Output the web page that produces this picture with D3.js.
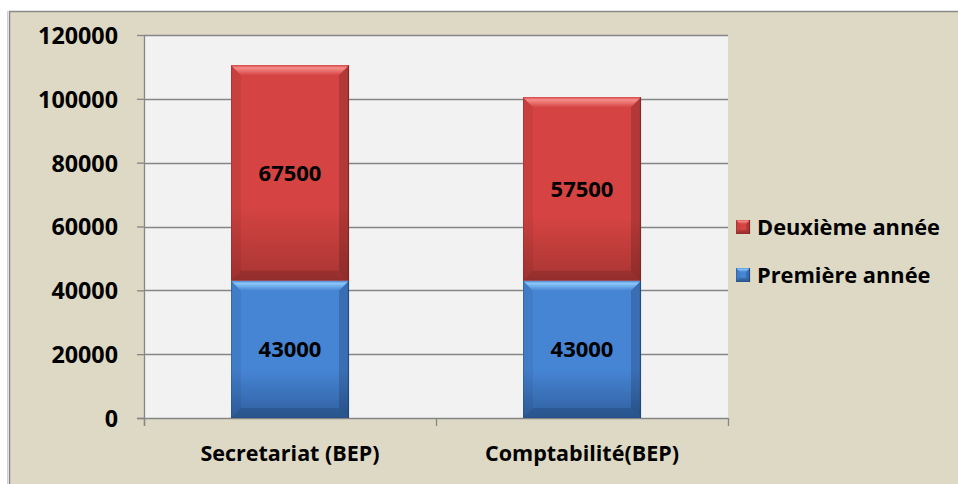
<!DOCTYPE html>
<html>
<head>
<meta charset="utf-8">
<script src="https://cdn.jsdelivr.net/npm/d3@7"></script>
<style>
  html, body { margin: 0; padding: 0; background: #ffffff; }
  svg { display: block; }
  text { font-family: "Open Sans", Lato, sans-serif; font-weight: bold; fill: #000; }
</style>
</head>
<body>
<svg id="chart" width="958" height="484"></svg>
<script>
const categories = ["Secretariat (BEP)", "Comptabilité(BEP)"];
const seriesNames = ["Première année", "Deuxième année"];
const premiere = [43000, 43000];
const deuxieme = [67500, 57500];
const yTicks = [0, 20000, 40000, 60000, 80000, 100000, 120000];

const W = 958, H = 484;
const FONT = "'Open Sans', Lato, sans-serif";
const svg = d3.select("#chart");
const defs = svg.append("defs");

// frame
svg.append("line").attr("x1", 7.5).attr("x2", 7.5).attr("y1", 11).attr("y2", H)
  .attr("stroke", "#cfcfcf").attr("stroke-width", 1);
svg.append("rect").attr("x", 9.5).attr("y", 11.5).attr("width", W).attr("height", H)
  .attr("fill", "#ddd9c4").attr("stroke", "#8a8a8a").attr("stroke-width", 1.5);

const plot = { left: 144, right: 728, top: 35, bottom: 418 };
svg.append("rect").attr("x", plot.left).attr("y", plot.top)
  .attr("width", plot.right - plot.left).attr("height", plot.bottom - plot.top)
  .attr("fill", "#f2f2f2");

const y = d3.scaleLinear().domain([0, 120000]).range([plot.bottom, plot.top]);
const x = d3.scaleBand().domain(categories).range([plot.left, plot.right])
  .paddingInner(0.596).paddingOuter(0.298);

// gridlines + y axis
const yAxis = d3.axisLeft(y).tickValues(yTicks).tickSize(7).tickFormat(d3.format("d"));
const gy = svg.append("g").attr("transform", `translate(${plot.left},0)`).call(yAxis);
gy.attr("font-family", null).attr("font-size", null);
gy.select(".domain").attr("stroke", "#868686").attr("stroke-width", 1.3)
  .attr("d", `M0.5,${plot.top}V${plot.bottom + 8}`);
gy.selectAll(".tick line").attr("stroke", "#868686").attr("stroke-width", 1.3);
gy.selectAll(".tick text").attr("x", -26).attr("dy", "0.36em")
  .style("font-size", "23.3px").style("font-family", FONT).style("font-weight", "bold").attr("fill", "#000");
svg.append("g").selectAll("line").data(yTicks.filter(d => d > 0)).join("line")
  .attr("x1", plot.left).attr("x2", plot.right)
  .attr("y1", d => Math.round(y(d)) + 0.5).attr("y2", d => Math.round(y(d)) + 0.5)
  .attr("stroke", "#868686").attr("stroke-width", 1.3);

// x axis
const xAxis = d3.axisBottom(x).tickSize(0).tickPadding(28);
const gx = svg.append("g").attr("transform", `translate(0,${plot.bottom})`).call(xAxis);
gx.attr("font-family", null).attr("font-size", null);
gx.select(".domain").remove();
gx.selectAll(".tick text")
  .style("font-size", "21.5px").style("font-family", FONT).style("font-weight", "bold").attr("fill", "#000");
svg.append("line").attr("x1", plot.left - 7).attr("x2", plot.right)
  .attr("y1", plot.bottom + 0.5).attr("y2", plot.bottom + 0.5)
  .attr("stroke", "#868686").attr("stroke-width", 1.3);
const boundaries = [plot.left, (plot.left + plot.right) / 2, plot.right];
svg.append("g").selectAll("line").data(boundaries).join("line")
  .attr("x1", d => d + 0.5).attr("x2", d => d + 0.5)
  .attr("y1", plot.bottom).attr("y2", plot.bottom + 8)
  .attr("stroke", "#868686").attr("stroke-width", 1.3);

// gradients
const palettes = {
  red:  { base: "#d54442", hi: "#f58e8a", lo: "#a83533", edge: "#7a2422" },
  blue: { base: "#4684d4", hi: "#8cc8f8", lo: "#2f609f", edge: "#1e4478" }
};
Object.entries(palettes).forEach(([k, p]) => {
  const g = defs.append("linearGradient").attr("id", "body-" + k).attr("x1", 0).attr("x2", 0).attr("y1", 0).attr("y2", 1);
  g.append("stop").attr("offset", "0%").attr("stop-color", p.base);
  g.append("stop").attr("offset", "65%").attr("stop-color", p.base);
  g.append("stop").attr("offset", "100%").attr("stop-color", p.lo);
  const t = defs.append("linearGradient").attr("id", "top-" + k).attr("x1", 0).attr("x2", 0).attr("y1", 0).attr("y2", 1);
  t.append("stop").attr("offset", "0%").attr("stop-color", p.base);
  t.append("stop").attr("offset", "25%").attr("stop-color", p.hi);
  t.append("stop").attr("offset", "100%").attr("stop-color", p.base);
});

function bevelBar(g, x0, y0, w, h, p, key, b) {
  const x1 = x0 + w, y1 = y0 + h;
  g.append("rect").attr("x", x0).attr("y", y0).attr("width", w).attr("height", h)
    .attr("fill", `url(#body-${key})`);
  g.append("polygon").attr("points", [[x0, y0], [x1, y0], [x1 - b, y0 + b], [x0 + b, y0 + b]].join(" "))
    .attr("fill", `url(#top-${key})`);
  g.append("polygon").attr("points", [[x0, y0], [x0 + b, y0 + b], [x0 + b, y1 - b], [x0, y1]].join(" "))
    .attr("fill", "#000").attr("opacity", 0.06);
  g.append("polygon").attr("points", [[x1, y0], [x1 - b, y0 + b], [x1 - b, y1 - b], [x1, y1]].join(" "))
    .attr("fill", "#000").attr("opacity", 0.16);
  g.append("polygon").attr("points", [[x0, y1], [x0 + b, y1 - b], [x1 - b, y1 - b], [x1, y1]].join(" "))
    .attr("fill", "#000").attr("opacity", 0.12);
  g.append("line").attr("x1", x1 - 0.5).attr("x2", x1 - 0.5).attr("y1", y0).attr("y2", y1)
    .attr("stroke", p.edge).attr("stroke-width", 1.2).attr("opacity", 0.8);
  g.append("line").attr("x1", x0 + 0.5).attr("x2", x0 + 0.5).attr("y1", y0).attr("y2", y1)
    .attr("stroke", p.edge).attr("stroke-width", 1).attr("opacity", 0.35);
}

const stacks = categories.map((c, i) => ({
  cat: c,
  segs: [
    { key: "blue", v0: 0, v1: premiere[i], val: premiere[i] },
    { key: "red", v0: premiere[i], v1: premiere[i] + deuxieme[i], val: deuxieme[i] }
  ]
}));

const barsG = svg.append("g");
stacks.forEach(s => {
  s.segs.forEach(seg => {
    const g = barsG.append("g");
    const top = y(seg.v1), bot = y(seg.v0);
    bevelBar(g, x(s.cat), top, x.bandwidth(), bot - top, palettes[seg.key], seg.key, 10);
    g.append("text").attr("x", x(s.cat) + x.bandwidth() / 2).attr("y", (top + bot) / 2)
      .attr("dy", "0.36em").attr("text-anchor", "middle").style("font-size", "22px")
      .text(seg.val);
  });
});

// legend
const legend = [
  { name: seriesNames[1], key: "red", cy: 227 },
  { name: seriesNames[0], key: "blue", cy: 275 }
];
legend.forEach(l => {
  const g = svg.append("g");
  bevelBar(g, 736, l.cy - 7, 14, 14, palettes[l.key], l.key, 4);
  g.append("text").attr("x", 757).attr("y", l.cy).attr("dy", "0.36em")
    .style("font-size", "21.8px").text(l.name);
});
</script>
</body>
</html>
